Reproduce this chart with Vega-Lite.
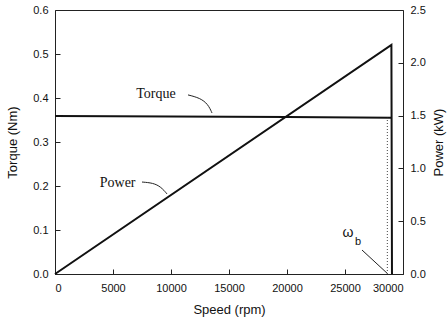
{
  "$schema": "https://vega.github.io/schema/vega-lite/v6.json",
  "width": 348,
  "height": 264,
  "autosize": "none",
  "padding": {"left": 55, "top": 10, "right": 45, "bottom": 49},
  "background": "white",
  "config": {
    "view": {"stroke": "#222", "strokeWidth": 1},
    "axis": {
      "grid": false,
      "domainColor": "#222",
      "tickColor": "#222",
      "tickWidth": 1,
      "tickSize": 5,
      "labelFont": "Liberation Sans",
      "labelFontSize": 11,
      "labelColor": "#111",
      "titleFont": "Liberation Sans",
      "titleFontSize": 13,
      "titleFontWeight": "normal",
      "titleColor": "#111"
    }
  },
  "datasets": {
    "torque": [
      {"speed": 0, "torque": 0.359},
      {"speed": 10000, "torque": 0.358},
      {"speed": 20000, "torque": 0.357},
      {"speed": 29000, "torque": 0.355}
    ],
    "power": [
      {"speed": 0, "power": 0},
      {"speed": 29000, "power": 2.17},
      {"speed": 29050, "power": 0}
    ],
    "base": [
      {"speed": 28650, "torque": 0},
      {"speed": 28650, "torque": 0.355}
    ],
    "leaders": [
      {"id": "t", "speed": 11466, "torque": 0.407},
      {"id": "t", "speed": 12500, "torque": 0.400},
      {"id": "t", "speed": 13190, "torque": 0.386},
      {"id": "t", "speed": 13534, "torque": 0.366},
      {"id": "p", "speed": 7500, "torque": 0.209},
      {"id": "p", "speed": 8448, "torque": 0.207},
      {"id": "p", "speed": 9138, "torque": 0.198},
      {"id": "p", "speed": 9655, "torque": 0.182}
    ],
    "wb": [
      {"speed": 26466, "torque": 0.0545, "speed2": 28621, "torque2": 0.002}
    ],
    "labels": [
      {"speed": 8700, "torque": 0.409, "text": "Torque"},
      {"speed": 5400, "torque": 0.207, "text": "Power"}
    ]
  },
  "layer": [
    {
      "data": {"name": "torque"},
      "mark": {"type": "line", "color": "#111", "strokeWidth": 2},
      "encoding": {
        "x": {
          "field": "speed", "type": "quantitative",
          "scale": {"domain": [0, 30000], "nice": false},
          "axis": {"title": "Speed (rpm)", "values": [0, 5000, 10000, 15000, 20000, 25000, 30000], "format": "d", "ticks": false, "labelPadding": 8, "titlePadding": 10}
        },
        "y": {
          "field": "torque", "type": "quantitative",
          "scale": {"domain": [0, 0.6], "nice": false},
          "axis": {"title": "Torque (Nm)", "orient": "left", "values": [0, 0.1, 0.2, 0.3, 0.4, 0.5, 0.6], "format": ".1f", "ticks": false, "labelPadding": 7, "titlePadding": 13}
        }
      }
    },
    {
      "data": {"name": "power"},
      "mark": {"type": "line", "color": "#111", "strokeWidth": 2},
      "encoding": {
        "x": {"field": "speed", "type": "quantitative", "scale": {"domain": [0, 30000], "nice": false}, "axis": null},
        "y": {
          "field": "power", "type": "quantitative",
          "scale": {"domain": [0, 2.5], "nice": false},
          "axis": {"title": "Power (kW)", "orient": "right", "titleAngle": 270, "values": [0, 0.5, 1.0, 1.5, 2.0, 2.5], "format": ".1f", "ticks": false, "labelPadding": 7, "titlePadding": 20}
        }
      }
    },
    {
      "data": {"name": "power"},
      "mark": {"type": "line", "strokeOpacity": 0},
      "encoding": {
        "x": {"field": "speed", "type": "quantitative", "scale": {"domain": [0, 30000], "nice": false}, "axis": null},
        "y": {
          "field": "power", "type": "quantitative",
          "scale": {"domain": [0, 2.5], "nice": false},
          "axis": {"title": null, "orient": "left", "offset": -348, "values": [0.5, 1.0, 1.5, 2.0], "labels": false, "domain": false, "ticks": true}
        }
      }
    },
    {
      "data": {"name": "base"},
      "mark": {"type": "line", "color": "#444", "strokeWidth": 1, "strokeDash": [1, 2]},
      "encoding": {
        "x": {
          "field": "speed", "type": "quantitative", "scale": {"domain": [0, 30000], "nice": false},
          "axis": {"title": null, "orient": "top", "offset": -264, "values": [5000, 10000, 15000, 20000, 25000], "labels": false, "domain": false, "ticks": true}
        },
        "y": {
          "field": "torque", "type": "quantitative", "scale": {"domain": [0, 0.6], "nice": false},
          "axis": {"title": null, "orient": "right", "offset": -348, "values": [0.1, 0.2, 0.3, 0.4, 0.5], "labels": false, "domain": false, "ticks": true}
        }
      }
    },
    {
      "data": {"name": "leaders"},
      "mark": {"type": "line", "color": "#222", "strokeWidth": 1, "interpolate": "basis"},
      "encoding": {
        "x": {"field": "speed", "type": "quantitative", "scale": {"domain": [0, 30000], "nice": false}, "axis": null},
        "y": {"field": "torque", "type": "quantitative", "scale": {"domain": [0, 0.6], "nice": false}, "axis": null},
        "detail": {"field": "id", "type": "nominal"}
      }
    },
    {
      "data": {"name": "wb"},
      "mark": {"type": "rule", "color": "#222", "strokeWidth": 1},
      "encoding": {
        "x": {"field": "speed", "type": "quantitative", "scale": {"domain": [0, 30000], "nice": false}, "axis": null},
        "y": {"field": "torque", "type": "quantitative", "scale": {"domain": [0, 0.6], "nice": false}, "axis": null},
        "x2": {"field": "speed2"},
        "y2": {"field": "torque2"}
      }
    },
    {
      "data": {"name": "labels"},
      "mark": {"type": "text", "font": "Liberation Serif", "fontSize": 14, "color": "#111", "align": "center", "baseline": "middle"},
      "encoding": {
        "x": {"field": "speed", "type": "quantitative", "scale": {"domain": [0, 30000], "nice": false}, "axis": null},
        "y": {"field": "torque", "type": "quantitative", "scale": {"domain": [0, 0.6], "nice": false}, "axis": null},
        "text": {"field": "text"}
      }
    },
    {
      "data": {"values": [{"speed": 25259, "torque": 0.093, "text": "ω"}]},
      "mark": {"type": "text", "font": "Liberation Sans", "fontSize": 14, "color": "#111", "align": "center", "baseline": "middle"},
      "encoding": {
        "x": {"field": "speed", "type": "quantitative", "scale": {"domain": [0, 30000], "nice": false}, "axis": null},
        "y": {"field": "torque", "type": "quantitative", "scale": {"domain": [0, 0.6], "nice": false}, "axis": null},
        "text": {"field": "text"}
      }
    },
    {
      "data": {"values": [{"speed": 26121, "torque": 0.072, "text": "b"}]},
      "mark": {"type": "text", "font": "Liberation Sans", "fontSize": 11, "color": "#111", "align": "center", "baseline": "middle"},
      "encoding": {
        "x": {"field": "speed", "type": "quantitative", "scale": {"domain": [0, 30000], "nice": false}, "axis": null},
        "y": {"field": "torque", "type": "quantitative", "scale": {"domain": [0, 0.6], "nice": false}, "axis": null},
        "text": {"field": "text"}
      }
    }
  ],
  "resolve": {"scale": {"y": "independent"}, "axis": {"x": "independent", "y": "independent"}}
}
